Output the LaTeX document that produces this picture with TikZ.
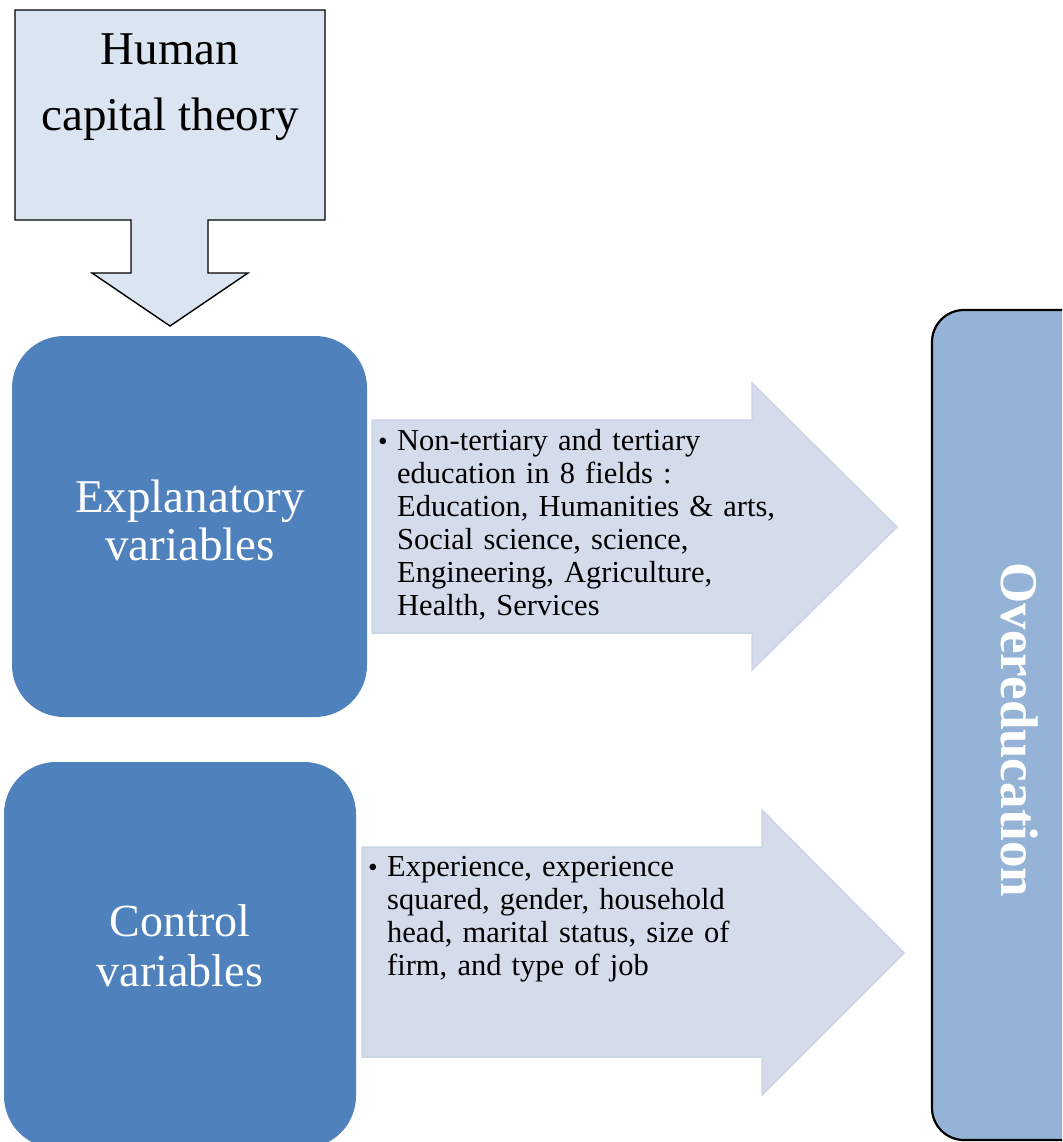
\documentclass[tikz,border=0pt]{standalone}
\usepackage{fontspec}
\setmainfont{Liberation Serif}
\definecolor{calloutfill}{HTML}{DBE5F1}
\definecolor{arrowfill}{HTML}{D4DBEA}
\definecolor{arrowedge}{HTML}{CCD4E6}
\definecolor{darkblue}{HTML}{4F81BD}
\definecolor{paleblue}{HTML}{95B3D7}
\newcommand{\bulletitem}{\leftskip=19pt\noindent\hspace*{-19pt}\makebox[19pt][l]{\raisebox{0.5pt}{\scalebox{0.9}{\textbullet}}}}
\tikzset{
  callout/.style={fill=calloutfill, draw=black, line width=1.4pt, line join=miter},
  bigarrow/.style={fill=arrowfill, draw=arrowedge, line width=1.5pt, line join=miter},
  varbox/.style={fill=darkblue, draw=none, rounded corners=52pt},
  outcome/.style={fill=paleblue, draw=black, line width=2.2pt, rounded corners=32pt},
  boxtext/.style={text=white, align=center, inner sep=0pt},
  listtext/.style={anchor=north west, inner sep=0pt, text width=460pt, align=left, font=\fontsize{30.5}{33}\selectfont}
}
\begin{document}
\begin{tikzpicture}[x=1pt, y=-1pt]
\useasboundingbox (0,0) rectangle (1062,1142);
\clip (0,0) rectangle (1062,1142);

% theory callout with a downward arrow
\path[callout] (15,10) -- (325,10) -- (325,220) -- (208,220) -- (208,273) -- (248,273)
  -- (170,326) -- (92,273) -- (131,273) -- (131,220) -- (15,220) -- cycle;
\node[align=center, inner sep=0pt, font=\fontsize{47}{66}\selectfont] (theory) at (170,87) {Human\\capital theory};

% variable groups
\path[varbox] (12,336) rectangle (367,717);
\node[boxtext, font=\fontsize{47}{48}\selectfont] (expl) at (190,520) {Explanatory\\variables};
\path[varbox] (4,762) rectangle (356,1148);
\node[boxtext, font=\fontsize{46}{50}\selectfont] (ctrl) at (180,946) {Control\\variables};

% block arrows carrying the variable lists
\path[bigarrow] (372,420) -- (752,420) -- (752,383) -- (897,527) -- (752,670) -- (752,633) -- (372,633) -- cycle;
\node[listtext] (explist) at (378,429.5) {\bulletitem Non-tertiary and tertiary\\
education in 8 fields :\\
Education, Humanities \& arts,\\
Social science, science,\\
Engineering, Agriculture,\\
Health, Services\par};

\path[bigarrow] (362,847) -- (762,847) -- (762,810) -- (904,953) -- (762,1095) -- (762,1057) -- (362,1057) -- cycle;
\node[listtext] (ctrllist) at (368,856.5) {\bulletitem Experience, experience\\
squared, gender, household\\
head, marital status, size of\\
firm, and type of job\par};

% outcome
\path[outcome] (932,310) rectangle (1100,1140);
\node[text=white, inner sep=0pt, rotate=-90, font=\fontsize{53}{53}\bfseries\selectfont] (over) at (1020,730) {Overeducation};
\end{tikzpicture}
\end{document}
